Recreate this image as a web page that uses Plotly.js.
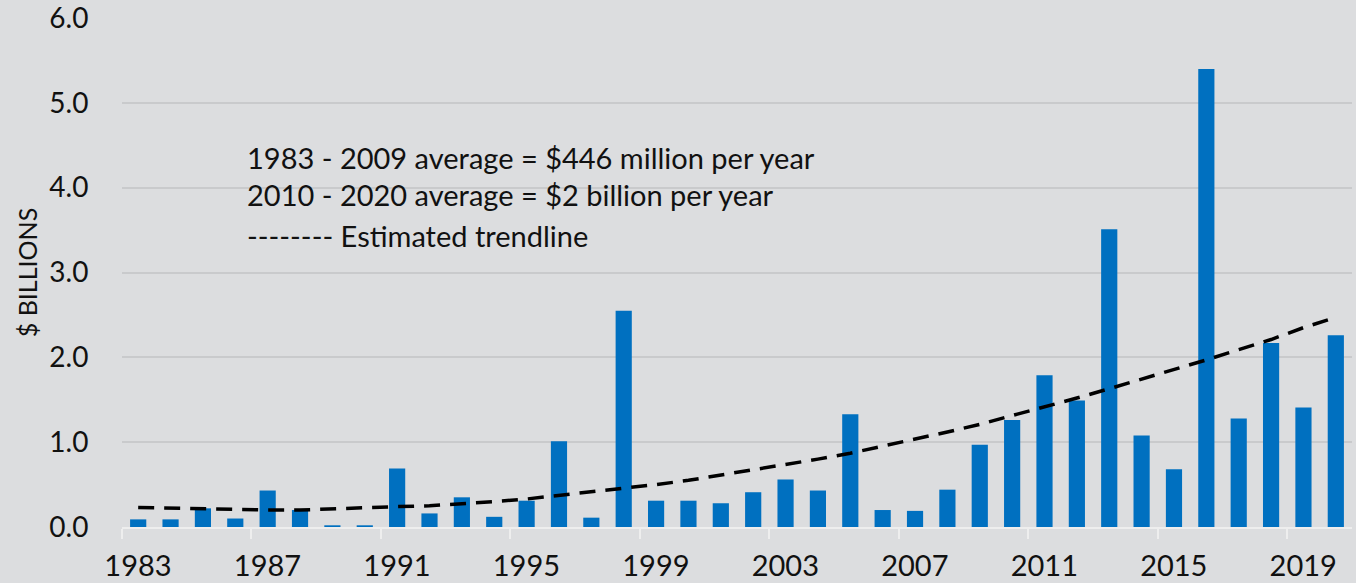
<!DOCTYPE html>
<html>
<head>
<meta charset="utf-8">
<script src="https://cdn.plot.ly/plotly-3.0.1.min.js"></script>
<style>html,body{margin:0;padding:0;background:#dcdddf;}#chart{width:1356px;height:583px;}</style>
</head>
<body>
<div id="chart"></div>
<script>
const years = [1983,1984,1985,1986,1987,1988,1989,1990,1991,1992,1993,1994,1995,1996,1997,1998,1999,2000,2001,2002,2003,2004,2005,2006,2007,2008,2009,2010,2011,2012,2013,2014,2015,2016,2017,2018,2019,2020];
const losses = [0.09,0.09,0.22,0.10,0.43,0.20,0.02,0.02,0.69,0.16,0.35,0.12,0.31,1.01,0.11,2.55,0.31,0.31,0.28,0.41,0.56,0.43,1.33,0.20,0.19,0.44,0.97,1.26,1.79,1.49,3.51,1.08,0.68,5.40,1.28,2.17,1.41,2.26];
const trend = [0.23,0.22,0.21,0.20,0.20,0.20,0.21,0.22,0.24,0.25,0.27,0.30,0.33,0.37,0.41,0.45,0.50,0.55,0.61,0.67,0.74,0.80,0.87,0.95,1.03,1.12,1.21,1.31,1.42,1.52,1.63,1.74,1.85,1.97,2.09,2.21,2.35,2.47];
const tickYears = [1983,1987,1991,1995,1999,2003,2007,2011,2015,2019];
const notes = ["1983 - 2009 average = $446 million per year","2010 - 2020 average = $2 billion per year","-------- Estimated trendline"];
const noteY = [4.36,3.92,3.44];

const FONT = "Lato, 'Open Sans', sans-serif";
const data = [
  {type:'bar', x:years, y:losses, marker:{color:'#0070c0'}, hoverinfo:'x+y'},
  {type:'scatter', mode:'lines', x:years, y:trend, line:{color:'#000000', width:3.5, dash:'16px,10px'}, hoverinfo:'skip'}
];
const layout = {
  width:1356, height:583,
  paper_bgcolor:'#dcdddf', plot_bgcolor:'#dcdddf',
  margin:{l:122, r:4, t:18, b:56},
  showlegend:false,
  bargap:0.5,
  font:{family:FONT, color:'#111111', size:29},
  xaxis:{
    type:'linear', range:[1982.5,2020.5], autorange:false,
    tickvals:tickYears.map(y=>y-0.5), ticktext:tickYears.map(String),
    ticklabelshift:16, ticklabelstandoff:2, ticklabeloverflow:'allow',
    ticks:'outside', ticklen:10, tickwidth:2, tickcolor:'#eeeeee',
    showline:true, linecolor:'#eeeeee', linewidth:2,
    showgrid:false, zeroline:false, automargin:false,
    tickfont:{family:FONT, size:29, color:'#111111'}
  },
  yaxis:{
    range:[0,6], autorange:false, dtick:1, tickformat:'.1f',
    showgrid:true, gridcolor:'#c9cacc', gridwidth:2,
    zeroline:false, showline:false, ticklabeloverflow:'allow',
    ticks:'outside', ticklen:27, tickcolor:'rgba(0,0,0,0)',
    automargin:false,
    tickfont:{family:FONT, size:28, color:'#111111'},
    title:{text:'$ BILLIONS', font:{family:FONT, size:25, color:'#111111'}, standoff:4}
  },
  annotations: notes.map((t,i)=>({
    text:t, x:1986.3, y:noteY[i], xref:'x', yref:'y',
    xanchor:'left', yanchor:'middle', showarrow:false,
    font:{family:FONT, size:29, color:'#111111'}
  }))
};
Plotly.newPlot('chart', data, layout, {displayModeBar:false, staticPlot:true});
</script>
</body>
</html>
